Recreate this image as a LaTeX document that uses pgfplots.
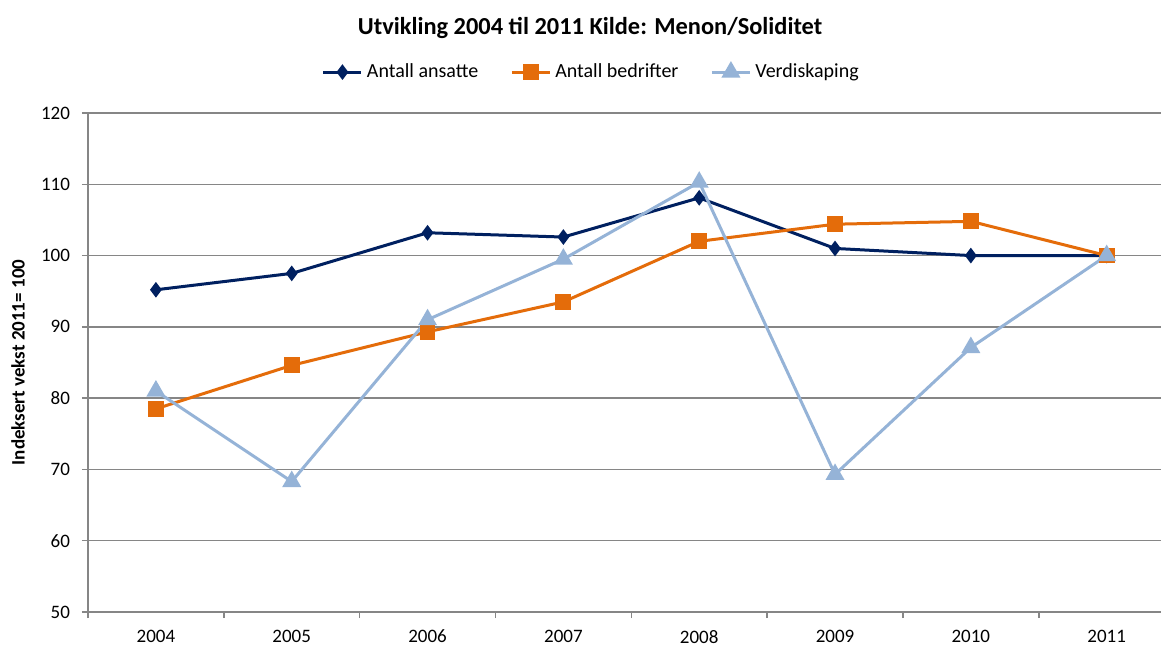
\documentclass[border=0pt]{standalone}
\usepackage{pgfplots}
\pgfplotsset{compat=1.18}
\usepackage{fontspec}
\setmainfont{Carlito}
\definecolor{navy}{RGB}{0,32,96}
\definecolor{orng}{RGB}{228,108,10}
\definecolor{lblue}{RGB}{149,179,215}
\definecolor{gridgray}{RGB}{134,134,134}
\begin{document}
\begin{tikzpicture}
\useasboundingbox (0,0) rectangle (580.5bp,323bp);
\begin{axis}[
 at={(44bp,17bp)}, anchor=south west,
 scale only axis, width=536.5bp, height=249.5bp,
 xmin=-0.5, xmax=7.4, ymin=50, ymax=120,
 ytick={50,60,...,120},
 xtick={0,1,2,3,4,5,6,7},
 xticklabels={2004,2005,2006,2007,2008,2009,2010,2011},
 minor xtick={-0.5,0.5,1.5,2.5,3.5,4.5,5.5,6.5},
 major x tick style={draw=none},
 minor x tick style={gridgray, line width=0.75bp},
 axis x line*=bottom, axis y line*=left,
 axis line style={-, gridgray, line width=0.75bp},
 ymajorgrids, grid style={gridgray, line width=0.75bp},
 tick style={gridgray, line width=0.75bp},
 tick align=outside, major tick length=3bp, minor tick length=3bp,
 /pgf/number format/assume math mode=true,
 tick label style={font=\fontsize{9.5bp}{11bp}\selectfont, black},
 xticklabel style={yshift=-2.5bp},
 yticklabel style={xshift=-2.5bp},
 ylabel={Indeksert vekst 2011= 100},
 ylabel style={at={(axis description cs:0,0.5)}, anchor=center, yshift=35bp, font=\bfseries\fontsize{9.5bp}{11bp}\selectfont},
 legend columns=3,
 legend style={at={(axis description cs:0.47,1.082)}, anchor=center, draw=none,
   font=\fontsize{10bp}{12bp}\selectfont,
   /tikz/every even column/.append style={column sep=14bp}},
 legend image code/.code={\draw[mark repeat=2,mark phase=2,#1] plot coordinates {(0bp,0bp)(9.5bp,0bp)(19bp,0bp)};},
 clip=false,
]
\addplot[navy, line width=1.5bp, mark=diamond*, mark size=2.7bp, mark options={solid, fill=navy}]
 coordinates {(0,95.2)(1,97.5)(2,103.2)(3,102.6)(4,108.1)(5,101.0)(6,100.0)(7,100.0)};
\addlegendentry{Antall ansatte}
\addplot[orng, line width=1.5bp, mark=square*, mark size=3.2bp, mark options={solid, fill=orng}]
 coordinates {(0,78.5)(1,84.6)(2,89.3)(3,93.5)(4,102.0)(5,104.4)(6,104.8)(7,100.0)};
\addlegendentry{Antall bedrifter}
\addplot[lblue, line width=1.5bp, mark=triangle*, mark size=4bp, mark options={solid, fill=lblue}]
 coordinates {(0,81.0)(1,68.3)(2,91.0)(3,99.5)(4,110.3)(5,69.3)(6,87.1)(7,100.0)};
\addlegendentry{Verdiskaping}
\end{axis}
\node[font=\bfseries\fontsize{12.2bp}{14bp}\selectfont] at (295bp,309bp) {Utvikling 2004 til 2011 Kilde: Menon/Soliditet};
\end{tikzpicture}
\end{document}
